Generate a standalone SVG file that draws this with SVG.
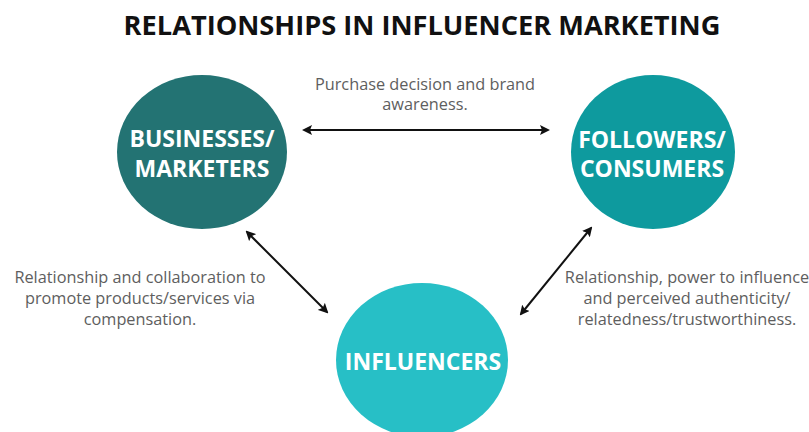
<svg xmlns="http://www.w3.org/2000/svg" width="809" height="432" viewBox="0 0 809 432">
<defs>
<style>
.title{font-family:"Open Sans","Liberation Sans",sans-serif;font-weight:bold;font-size:27.2px;fill:#111;text-anchor:middle}
.node{font-family:"Open Sans","Liberation Sans",sans-serif;font-weight:bold;font-size:23px;fill:#fff;text-anchor:middle}
.lbl{font-family:"Open Sans","Liberation Sans",sans-serif;font-size:16.3px;fill:#5e5e5e;text-anchor:middle}
.conn{stroke:#111;stroke-width:2;fill:none;marker-start:url(#ah);marker-end:url(#ah)}
</style>
<marker id="ah" viewBox="0 0 10 10" refX="8" refY="5" markerWidth="5" markerHeight="5" orient="auto-start-reverse" markerUnits="strokeWidth">
<path d="M0,0 L10,5 L0,10 L2,5 z" fill="#111"/>
</marker>
</defs>
<rect width="809" height="432" fill="#fff"/>
<text class="title" x="422" y="35">RELATIONSHIPS IN INFLUENCER MARKETING</text>
<g id="businesses">
<ellipse cx="202" cy="152" rx="85" ry="77" fill="#237373"/>
<text class="node" x="202" y="147">BUSINESSES/</text>
<text class="node" x="202" y="177">MARKETERS</text>
</g>
<g id="followers">
<ellipse cx="653" cy="152" rx="82" ry="77" fill="#0e9a9e"/>
<text class="node" x="652" y="148">FOLLOWERS/</text>
<text class="node" x="652" y="177">CONSUMERS</text>
</g>
<g id="influencers">
<ellipse cx="422" cy="360" rx="86" ry="77" fill="#27bfc6"/>
<text class="node" x="423" y="370">INFLUENCERS</text>
</g>
<g id="connectors">
<line class="conn" x1="304" y1="130" x2="548" y2="130"/>
<line class="conn" x1="247" y1="232" x2="327" y2="312"/>
<line class="conn" x1="591" y1="228" x2="521" y2="314"/>
</g>
<g id="labels">
<text class="lbl" x="425" y="90">Purchase decision and brand</text>
<text class="lbl" x="425" y="110">awareness.</text>
<text class="lbl" x="140" y="283">Relationship and collaboration to</text>
<text class="lbl" x="140" y="304">promote products/services via</text>
<text class="lbl" x="140" y="325">compensation.</text>
<text class="lbl" x="687" y="283">Relationship, power to influence</text>
<text class="lbl" x="687" y="304">and perceived authenticity/</text>
<text class="lbl" x="687" y="325">relatedness/trustworthiness.</text>
</g>
</svg>
